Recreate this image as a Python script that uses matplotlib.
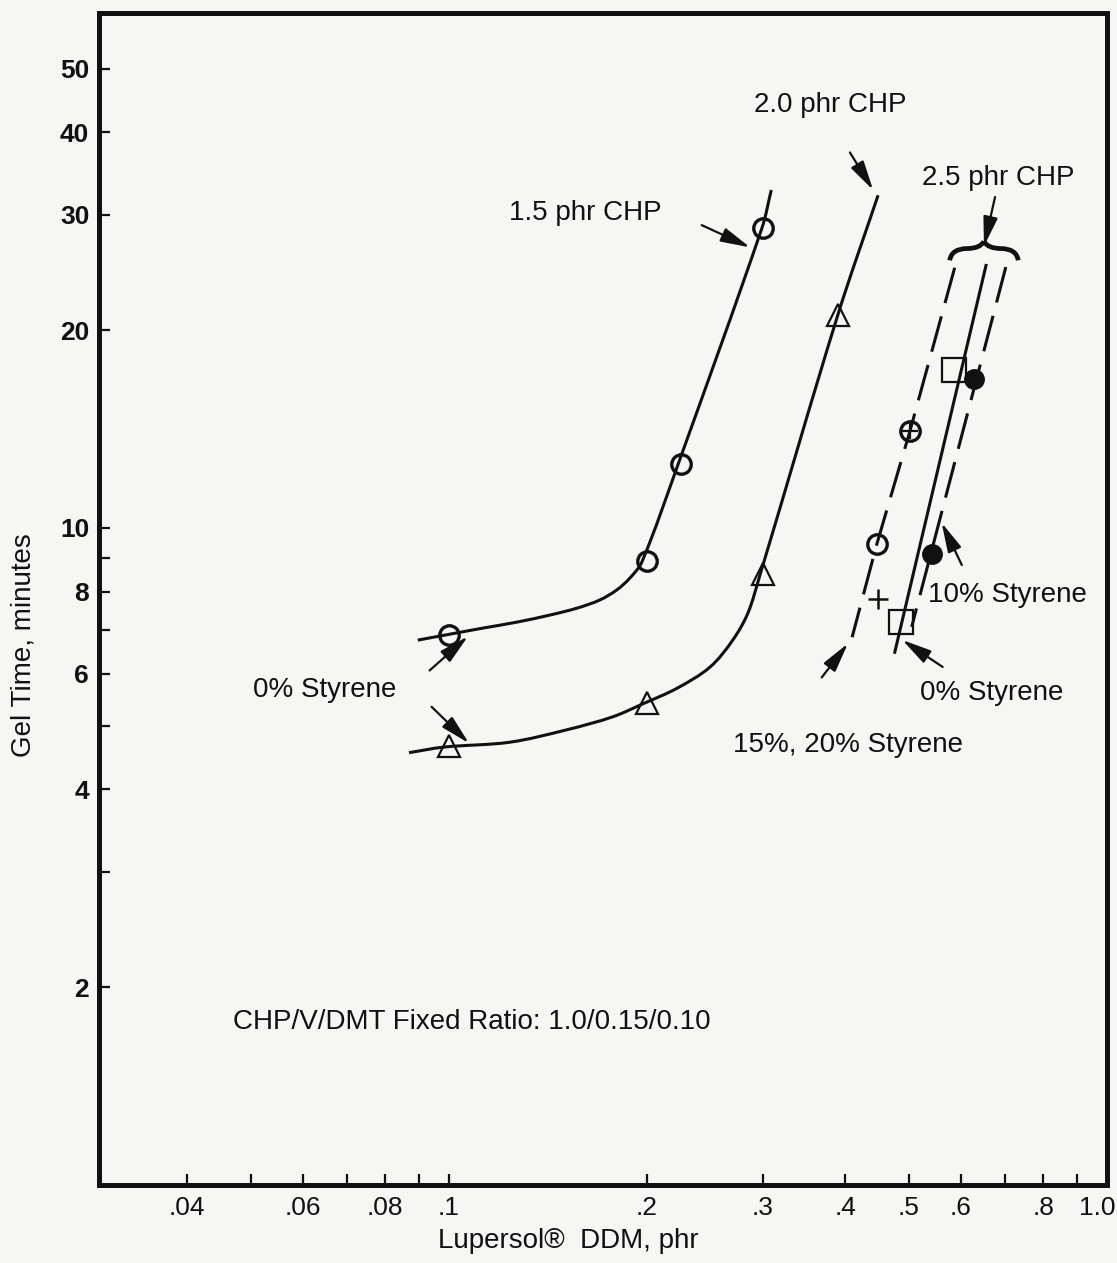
import matplotlib
matplotlib.use('Agg')
import matplotlib.pyplot as plt
import numpy as np
from matplotlib.path import Path
from matplotlib.patches import PathPatch
from matplotlib.ticker import FixedLocator, FixedFormatter, NullLocator
from matplotlib.transforms import ScaledTranslation

plt.rcParams['font.family'] = ['Liberation Sans', 'DejaVu Sans']

INK = '#111111'
PAPER = '#f6f6f4'

# --- 1.5 phr CHP (0% styrene): hand-drawn curve and measured points
chp15_curve_x = [0.0897, 0.0986, 0.1126, 0.1269, 0.1424, 0.1565, 0.1696, 0.180, 0.1884, 0.1965, 0.223, 0.299, 0.309]
chp15_curve_y = [6.75, 6.87, 7.04, 7.19, 7.37, 7.55, 7.77, 8.05, 8.39, 8.88, 12.5, 28.6, 32.7]
chp15_x = [0.1, 0.2, 0.225, 0.3]
chp15_y = [6.87, 8.9, 12.5, 28.6]

# --- 2.0 phr CHP (0% styrene)
chp20_curve_x = [0.0870, 0.0983, 0.1238, 0.1511, 0.1775, 0.1972, 0.222, 0.2493, 0.270, 0.2847, 0.297, 0.390, 0.449]
chp20_curve_y = [4.55, 4.64, 4.72, 4.93, 5.16, 5.40, 5.70, 6.14, 6.75, 7.42, 8.48, 21.1, 32.1]
chp20_x = [0.1, 0.2, 0.3, 0.39]
chp20_y = [4.65, 5.42, 8.5, 21.1]

# --- 2.5 phr CHP, 15% / 20% styrene (dashed)
sty1520_line_x = [0.587, 0.502, 0.447, 0.41]
sty1520_line_y = [24.9, 14.05, 9.45, 6.82]
sty15_x = [0.502, 0.447]
sty15_y = [14.05, 9.45]
sty20_x = [0.449]
sty20_y = [7.80]

# --- 2.5 phr CHP, 0% styrene (solid)
sty0_line_x = [0.655, 0.476]
sty0_line_y = [25.1, 6.47]
sty0_x = [0.585, 0.486]
sty0_y = [17.4, 7.19]

# --- 2.5 phr CHP, 10% styrene (dashed)
sty10_line_x = [0.702, 0.505]
sty10_line_y = [24.96, 7.07]
sty10_x = [0.628, 0.542]
sty10_y = [16.86, 9.13]

x_ticks = [0.04, 0.05, 0.06, 0.07, 0.08, 0.09, 0.1, 0.2, 0.3, 0.4, 0.5, 0.6, 0.7, 0.8, 0.9, 1.0]
x_labels = ['.04', '', '.06', '', '.08', '', '.1', '.2', '.3', '.4', '.5', '.6', '', '.8', '', '']
y_ticks = [2, 3, 4, 5, 6, 7, 8, 9, 10, 20, 30, 40, 50]
y_labels = ['2', '', '4', '', '6', '', '8', '', '10', '20', '30', '40', '50']


def smooth_curve(xs, ys):
    """Bezier path through the read points (tangents taken in log-log space)."""
    pts = np.column_stack([np.log10(xs), np.log10(ys)])
    n = len(pts)
    verts, codes = [pts[0]], [Path.MOVETO]
    for i in range(n - 1):
        p0 = pts[max(i - 1, 0)]
        p1, p2 = pts[i], pts[i + 1]
        p3 = pts[min(i + 2, n - 1)]
        seg = np.linalg.norm(p2 - p1) / 3
        m1 = (p2 - p0) / np.linalg.norm(p2 - p0)
        m2 = (p3 - p1) / np.linalg.norm(p3 - p1)
        verts += [p1 + m1 * seg, p2 - m2 * seg, p2]
        codes += [Path.CURVE4] * 3
    return Path(10 ** np.array(verts), codes)


fig = plt.figure(figsize=(11.17, 12.63), dpi=100, facecolor=PAPER)
ax = fig.add_axes([0.0886, 0.0618, 0.9024, 0.9279], facecolor=PAPER)
ax.set_xscale('log')
ax.set_yscale('log')
ax.set_xlim(0.0294, 1.0)
ax.set_ylim(1.0, 60.8)

lw = 2.2
ax.add_patch(PathPatch(smooth_curve(chp15_curve_x, chp15_curve_y), fill=False, lw=lw, edgecolor=INK))
ax.plot(chp15_x, chp15_y, ls='none', marker='o', ms=14, mfc='none', mec=INK, mew=2.4)

ax.add_patch(PathPatch(smooth_curve(chp20_curve_x, chp20_curve_y), fill=False, lw=lw, edgecolor=INK))
ax.plot(chp20_x, chp20_y, ls='none', marker='^', ms=16, mfc='none', mec=INK, mew=1.6)

ax.plot(sty1520_line_x, sty1520_line_y, color=INK, lw=lw, dashes=(12, 4.5))
ax.plot(sty15_x, sty15_y, ls='none', marker='o', ms=14, mfc='none', mec=INK, mew=2.4)
ax.plot(sty15_x[:1], sty15_y[:1], ls='none', marker='+', ms=11, mec=INK, mew=1.6)
ax.plot(sty20_x, sty20_y, ls='none', marker='+', ms=15, mec=INK, mew=1.8)

ax.plot(sty0_line_x, sty0_line_y, color=INK, lw=lw)
ax.plot(sty0_x, sty0_y, ls='none', marker='s', ms=17, mfc='none', mec=INK, mew=1.6)

ax.plot(sty10_line_x, sty10_line_y, color=INK, lw=lw, dashes=(12, 4.5))
ax.plot(sty10_x, sty10_y, ls='none', marker='o', ms=14, mfc=INK, mec=INK)

# axes styling
for side in ax.spines.values():
    side.set_linewidth(3.6)
    side.set_color(INK)
ax.xaxis.set_major_locator(FixedLocator(x_ticks))
ax.xaxis.set_major_formatter(FixedFormatter(x_labels))
ax.xaxis.set_minor_locator(NullLocator())
ax.yaxis.set_major_locator(FixedLocator(y_ticks))
ax.yaxis.set_major_formatter(FixedFormatter(y_labels))
ax.yaxis.set_minor_locator(NullLocator())
ax.tick_params(direction='in', length=8, width=1.6, color=INK, labelcolor=INK)
ax.tick_params(axis='x', labelsize=19, pad=8)
ax.tick_params(axis='y', labelsize=19, pad=7)
for t in ax.get_yticklabels():
    t.set_fontweight('bold')
# last x label sits against the right edge of the page
ax.text(1.0, -0.0098, '1.0', fontsize=19, color=INK, ha='center', va='top',
        transform=ax.transAxes + ScaledTranslation(-0.1, 0, fig.dpi_scale_trans))

ax.set_xlabel('Lupersol\u00ae  DDM, phr', fontsize=20, color=INK)
ax.xaxis.set_label_coords(0.466, -0.037)
ax.set_ylabel('Gel Time, minutes', fontsize=20, color=INK)
ax.yaxis.set_label_coords(-0.062, 0.461)

# annotations
txt = dict(transform=ax.transAxes, fontsize=20, color=INK, va='center')
ax.text(0.725, 0.9215, '2.0 phr CHP', ha='center', **txt)
ax.text(0.482, 0.829, '1.5 phr CHP', ha='center', **txt)
ax.text(0.892, 0.859, '2.5 phr CHP', ha='center', **txt)
ax.text(0.224, 0.422, '0% Styrene', ha='center', **txt)
ax.text(0.822, 0.503, '10% Styrene', ha='left', **txt)
ax.text(0.886, 0.420, '0% Styrene', ha='center', **txt)
ax.text(0.743, 0.375, '15%, 20% Styrene', ha='center', **txt)
ax.text(0.133, 0.139, 'CHP/V/DMT Fixed Ratio: 1.0/0.15/0.10', ha='left', **txt)

arrow = dict(arrowstyle='-|>,head_length=0.9,head_width=0.22', color=INK, lw=1.6,
             shrinkA=0, shrinkB=0, mutation_scale=20)
arrows = [
    ((0.598, 0.819), (0.646, 0.800)),
    ((0.745, 0.881), (0.768, 0.849)),
    ((0.889, 0.843), (0.878, 0.801)),
    ((0.328, 0.439), (0.366, 0.468)),
    ((0.330, 0.408), (0.367, 0.377)),
    ((0.856, 0.529), (0.836, 0.565)),
    ((0.837, 0.442), (0.797, 0.465)),
    ((0.717, 0.433), (0.743, 0.462)),
]
for tail, head in arrows:
    ax.annotate('', xy=head, xytext=tail, xycoords='axes fraction',
                textcoords='axes fraction', arrowprops=arrow)

# curly brace over the 2.5 phr lines
brace = Path(
    [(0.844, 0.789), (0.846, 0.799), (0.861, 0.799), (0.874, 0.799), (0.878, 0.805),
     (0.878, 0.805), (0.882, 0.799), (0.895, 0.799), (0.910, 0.799), (0.912, 0.789)],
    [Path.MOVETO, Path.CURVE3, Path.CURVE3, Path.CURVE3, Path.CURVE3,
     Path.MOVETO, Path.CURVE3, Path.CURVE3, Path.CURVE3, Path.CURVE3])
ax.add_patch(PathPatch(brace, transform=ax.transAxes, fill=False, lw=3.4, edgecolor=INK))

fig.savefig('out.png', dpi=100, facecolor=PAPER)
